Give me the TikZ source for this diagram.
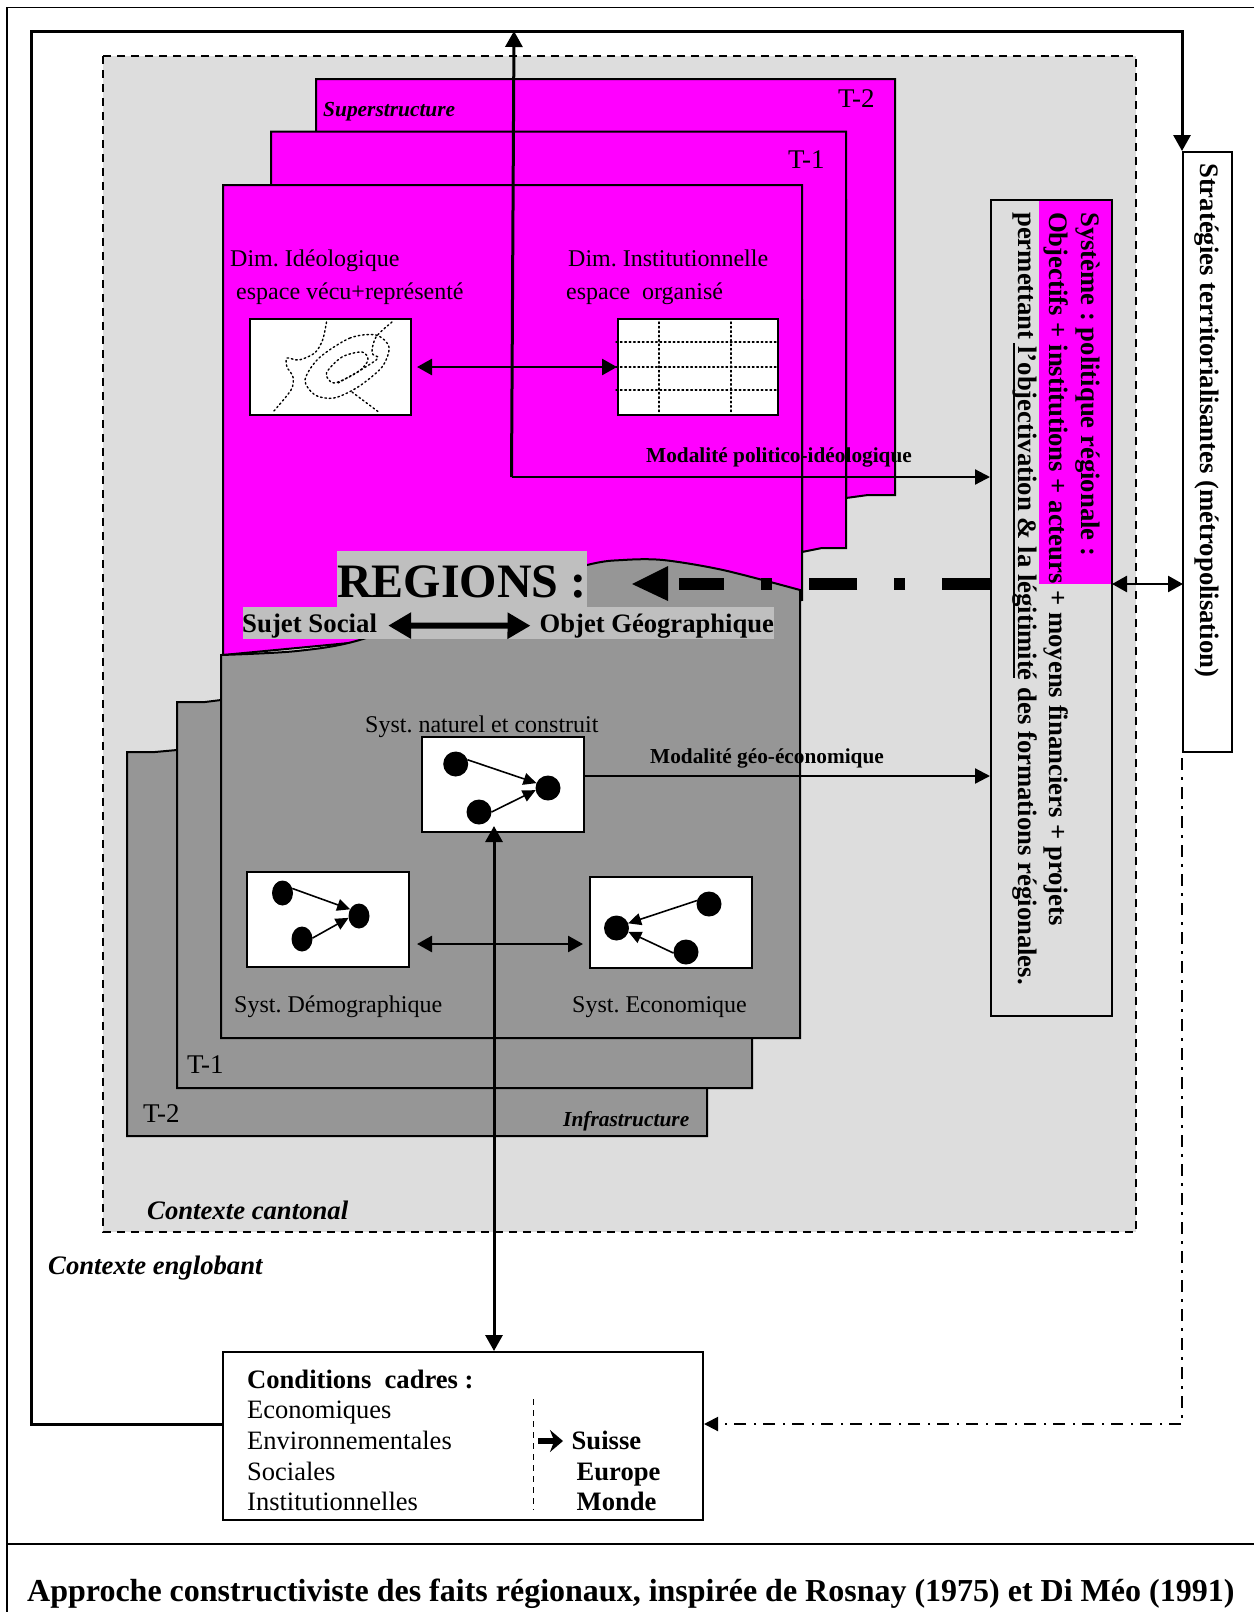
\documentclass[tikz,border=0pt]{standalone}
\usepackage{fontspec}
\setmainfont{Liberation Serif}
\usetikzlibrary{arrows.meta,shapes.geometric}
\definecolor{contextgray}{HTML}{DDDDDD}
\definecolor{sheetgray}{HTML}{969696}
\definecolor{labelgray}{HTML}{BFBFBF}
\definecolor{sheetpink}{HTML}{FF00FF}
\tikzset{
  sheetpk/.style={draw=black,fill=sheetpink,line width=2pt},
  sheetgr/.style={draw=black,fill=sheetgray,line width=2pt},
  boxw/.style={draw=black,fill=white,line width=2pt,inner sep=0pt,minimum width=#1},
  label/.style={anchor=base west,inner sep=0pt,font=\fontsize{24}{28}\selectfont},
  labelm/.style={label,font=\fontsize{27}{30}\selectfont},
  labelq/.style={label,font=\fontsize{26.5}{30}\selectfont},
  labelb/.style={label,font=\fontsize{21.3}{24}\selectfont\bfseries},
  labeli/.style={label,font=\fontsize{21.4}{24}\selectfont\bfseries\itshape},
  labelc/.style={label,font=\fontsize{26.7}{30}\selectfont\bfseries\itshape},
  labelt/.style={label,font=\fontsize{26.6}{30}\selectfont\bfseries},
  dotline/.style={line width=1.4pt,dash pattern=on 1.6pt off 2.8pt,line cap=round},
  dotnat/.style={ellipse,fill=black,inner sep=0pt,minimum width=25pt,minimum height=25pt,outer sep=0pt},
  dotdem/.style={ellipse,fill=black,inner sep=0pt,minimum width=21pt,minimum height=25pt,outer sep=0pt},
  tinyarr/.style={line width=1.6pt,-{Triangle[length=13pt,width=12pt]}},
  conn/.style={line width=2.2pt,-{Triangle[length=15pt,width=15pt]}},
  dblconn/.style={line width=2.6pt,{Triangle[length=15pt,width=16pt]}-{Triangle[length=15pt,width=16pt]}},
  thickconn/.style={line width=3pt,-{Triangle[length=16pt,width=17pt]}},
}
\begin{document}
\frenchspacing
\begin{tikzpicture}[x=1pt,y=-1pt]
\useasboundingbox (0,0) rectangle (1254,1612);
\fill[white] (0,0) rectangle (1254,1612);

\draw[line width=1.8pt] (1254,7.5) -- (7,7.5) -- (7,1612);
\draw[line width=1.8pt] (7,1544) -- (1254,1544);

\draw[fill=contextgray,line width=1.8pt,dash pattern=on 8pt off 6pt] (103,56) rectangle (1136,1232);

\draw[sheetpk] (316,79) -- (895,79) -- (895,495) -- (868,495) -- (846,498) -- (846,200) -- (316,200) -- cycle;
\draw[sheetpk] (271,131.5) -- (846,131.5) -- (846,548) -- (822,548) -- (802,552) -- (802,300) -- (271,300) -- cycle;
\draw[sheetpk] (223,185) -- (802,185) -- (802,600) -- (223,655) -- cycle;

\draw[sheetgr] (127,752) -- (155,752) -- (177,750) -- (707,750) -- (707,1136) -- (127,1136) -- cycle;
\draw[sheetgr] (177,702) -- (205,702) -- (221,700) -- (752,700) -- (752,1088) -- (177,1088) -- cycle;
\draw[sheetgr] plot[smooth] coordinates {(221,655) (297,651) (363,639) (480,595) (587,565) (623,560) (663,560) (723,570) (800,590)} -- (800,1038) -- (221,1038) -- cycle;

\fill[labelgray] (337,551) rectangle (587,607);
\fill[labelgray] (243,607) rectangle (774,639);

\node[labelm] at (838,107) {T-2};
\node[labelm] at (788,168) {T-1};
\node[labeli] at (323,116) {Superstructure};
\node[label] at (230,266) {Dim. Idéologique};
\node[label] at (236,299) {espace vécu+représenté};
\node[label] at (568,266) {Dim. Institutionnelle};
\node[label] at (566,299) {espace\ \ organisé};

\node[boxw=161pt,minimum height=96pt] (boxideo) at (330.5,367) {};
\node[boxw=160pt,minimum height=96pt] (boxinst) at (698,367) {};

\draw[dotline] plot[smooth] coordinates {(326.5,322) (322.6,340) (314.7,353) (299,360) (287,358) (287,367) (293,377) (291,390) (273,412)};
\draw[dotline] plot[smooth cycle] coordinates {(376,335) (350,338) (319,358) (305,380) (315,395) (334,398) (358,387) (382,367) (389,347)};
\draw[dotline] plot[smooth cycle] coordinates {(362,352) (342,357) (326.5,373) (334,383) (358,372) (368,360)};
\draw[dotline] plot[smooth] coordinates {(392,322) (376,337) (372,353) (378,358) (364,368) (338,383)};
\draw[dotline] (352,392) -- (380,413);
\foreach \y in {342,367,390} \draw[dotline] (616,\y) -- (778,\y);
\foreach \x in {659,731} \draw[dotline] (\x,322) -- (\x,412);

\node[labelb] (labpol) at (646,462) {Modalité politico-idéologique};
\node[label,font=\fontsize{48}{52}\selectfont\bfseries] (labreg) at (337,597) {REGIONS :};
\node[label,font=\fontsize{26.8}{30}\selectfont\bfseries] (labsuj) at (242,632) {Sujet Social};
\node[label,font=\fontsize{26.6}{30}\selectfont\bfseries] (labobj) at (539.5,632) {Objet Géographique};
\node[labelb] (labgeo) at (650,763) {Modalité géo-économique};

\node[label] at (365,732) {Syst. naturel et construit};
\node[label] at (234,1012) {Syst. Démographique};
\node[label] at (572,1012) {Syst. Economique};
\node[labelm] at (187,1073) {T-1};
\node[labelm] at (143,1122) {T-2};
\node[labeli] at (563,1126) {Infrastructure};
\node[labelc] at (147,1219) {Contexte cantonal};
\node[labelc] at (48,1274) {Contexte englobant};

\node[boxw=162pt,minimum height=95pt] (boxnat) at (502.5,784.5) {};
\node[boxw=162pt,minimum height=95pt] (boxdem) at (328,919.5) {};
\node[boxw=161.5pt,minimum height=91pt] (boxeco) at (670.75,922.5) {};

\node[dotnat] (natA) at (455.7,764) {};
\node[dotnat] (natB) at (479,812) {};
\node[dotnat] (natC) at (548,788) {};
\draw[tinyarr] (natA.20) -- (natC.157);
\draw[tinyarr] (natB.0) -- (natC.190);
\draw[white,line width=1.3pt] (522,787.5) -- (535,786.5);

\node[dotdem] (demA) at (282.5,893) {};
\node[dotdem] (demB) at (302,939) {};
\node[dotdem] (demC) at (359,916) {};
\draw[tinyarr] (demA.25) -- (demC.143);
\draw[tinyarr] (demB.5) -- (demC.190);
\draw[white,line width=1.3pt] (334,914) -- (348,913);

\node[dotnat] (ecoA) at (709,904) {};
\node[dotnat] (ecoB) at (686,952) {};
\node[dotnat] (ecoC) at (616.5,928) {};
\draw[tinyarr] (ecoA.164) -- (ecoC.22);
\draw[tinyarr] (ecoB.185) -- (ecoC.-18);
\draw[white,line width=1.3pt] (629,927) -- (643,927.5);

\node[draw=black,line width=2pt,inner sep=0pt,minimum width=121pt,minimum height=816pt] (boxsys) at (1051.5,608) {};
\fill[sheetpink] (1039,201) rectangle (1111,584);
\node[rotate=-90,anchor=north west,inner sep=0pt,align=left,font=\fontsize{26.7}{31.5}\selectfont\bfseries] (labsys) at (1100,212) {Système : politique régionale :\\Objectifs + institutions + acteurs + moyens financiers + projets\\permettant l'objectivation \& la légitimité des formations régionales.};
\draw[line width=2.6pt] (1014,343) -- (1014,678);

\node[draw=black,fill=white,line width=2pt,inner sep=0pt,minimum width=49pt,minimum height=600pt] (boxstrat) at (1207.5,452) {};
\node[rotate=-90,inner sep=0pt,font=\fontsize{26.7}{30}\selectfont\bfseries,anchor=north west] (labstrat) at (1219,163) {Stratégies territorialisantes (métropolisation)};

\node[boxw=480pt,minimum height=168pt] (boxcadres) at (463,1436) {};
\node[labelt] at (247,1388) {Conditions\ \ cadres :};
\node[labelq] at (247,1418) {Economiques};
\node[labelq] at (247,1449) {Environnementales};
\node[labelq] at (247,1480) {Sociales};
\node[labelq] at (247,1510) {Institutionnelles};
\node[labelt] (labsui) at (571.5,1449) {Suisse};
\node[labelt] at (576.5,1480) {Europe};
\node[labelt] at (576.5,1510) {Monde};
\draw[line width=0.9pt,dash pattern=on 6pt off 5pt] (533,1399) -- (533,1510);
\coordinate (suiarr) at (538,1441);
\coordinate (suiend) at (563,1441);
\draw[line width=6pt,-{Stealth[length=13pt,width=22pt]}] (suiarr) -- (suiend);

\coordinate (polstart) at (511.5,477);
\coordinate (topmid) at (514,31);
\coordinate (regtip) at (632,584);
\coordinate (regend) at (679,584);

\draw[conn] (polstart) -- (polstart -| boxsys.west);
\draw[thickconn] (polstart) -- (topmid);
\draw[thickconn] ([yshift=12pt]boxcadres.west) -| (31,31) -| (boxstrat.north west);
\draw[dblconn] ([xshift=5pt]boxideo.east) -- (boxinst.west);
\draw[conn] ([yshift=8.5pt]boxnat.east) -- ([yshift=8.5pt]boxnat.east -| boxsys.west);
\draw[line width=3pt,{Triangle[length=16pt,width=17pt]}-{Triangle[length=16pt,width=17pt]}] (boxcadres.north -| boxnat.south) ++(-8.5,0) -- ([xshift=-8.5pt,yshift=7pt]boxnat.south);
\draw[dblconn] ([xshift=7pt,yshift=-24.5pt]boxdem.east) -- ([xshift=-6pt,yshift=-21.5pt]boxeco.west);
\draw[line width=6pt,{Triangle[length=23pt,width=25pt]}-{Triangle[length=23pt,width=25pt]}] ([xshift=11pt]labsuj.east) -- ([xshift=-9pt]labobj.west);
\draw[line width=12pt,dash pattern=on 48pt off 37pt on 11pt off 37pt] (boxsys.west |- regend) -- (regend);
\fill (regtip) -- ++(36,-18) -- ++(0,35) -- cycle;
\draw[dblconn] (1112,584) -- (1183,584);
\draw[line width=2pt,dash pattern=on 12pt off 7pt on 2.5pt off 7.5pt,-{Triangle[length=14pt,width=14pt]}] ([yshift=-5pt]boxstrat.south west) |- ([yshift=12pt]boxcadres.east);

\node[label,font=\fontsize{32}{36}\selectfont\bfseries] at (27,1601.5) {Approche constructiviste des faits régionaux, inspirée de Rosnay (1975) et Di Méo (1991)};
\end{tikzpicture}
\end{document}
